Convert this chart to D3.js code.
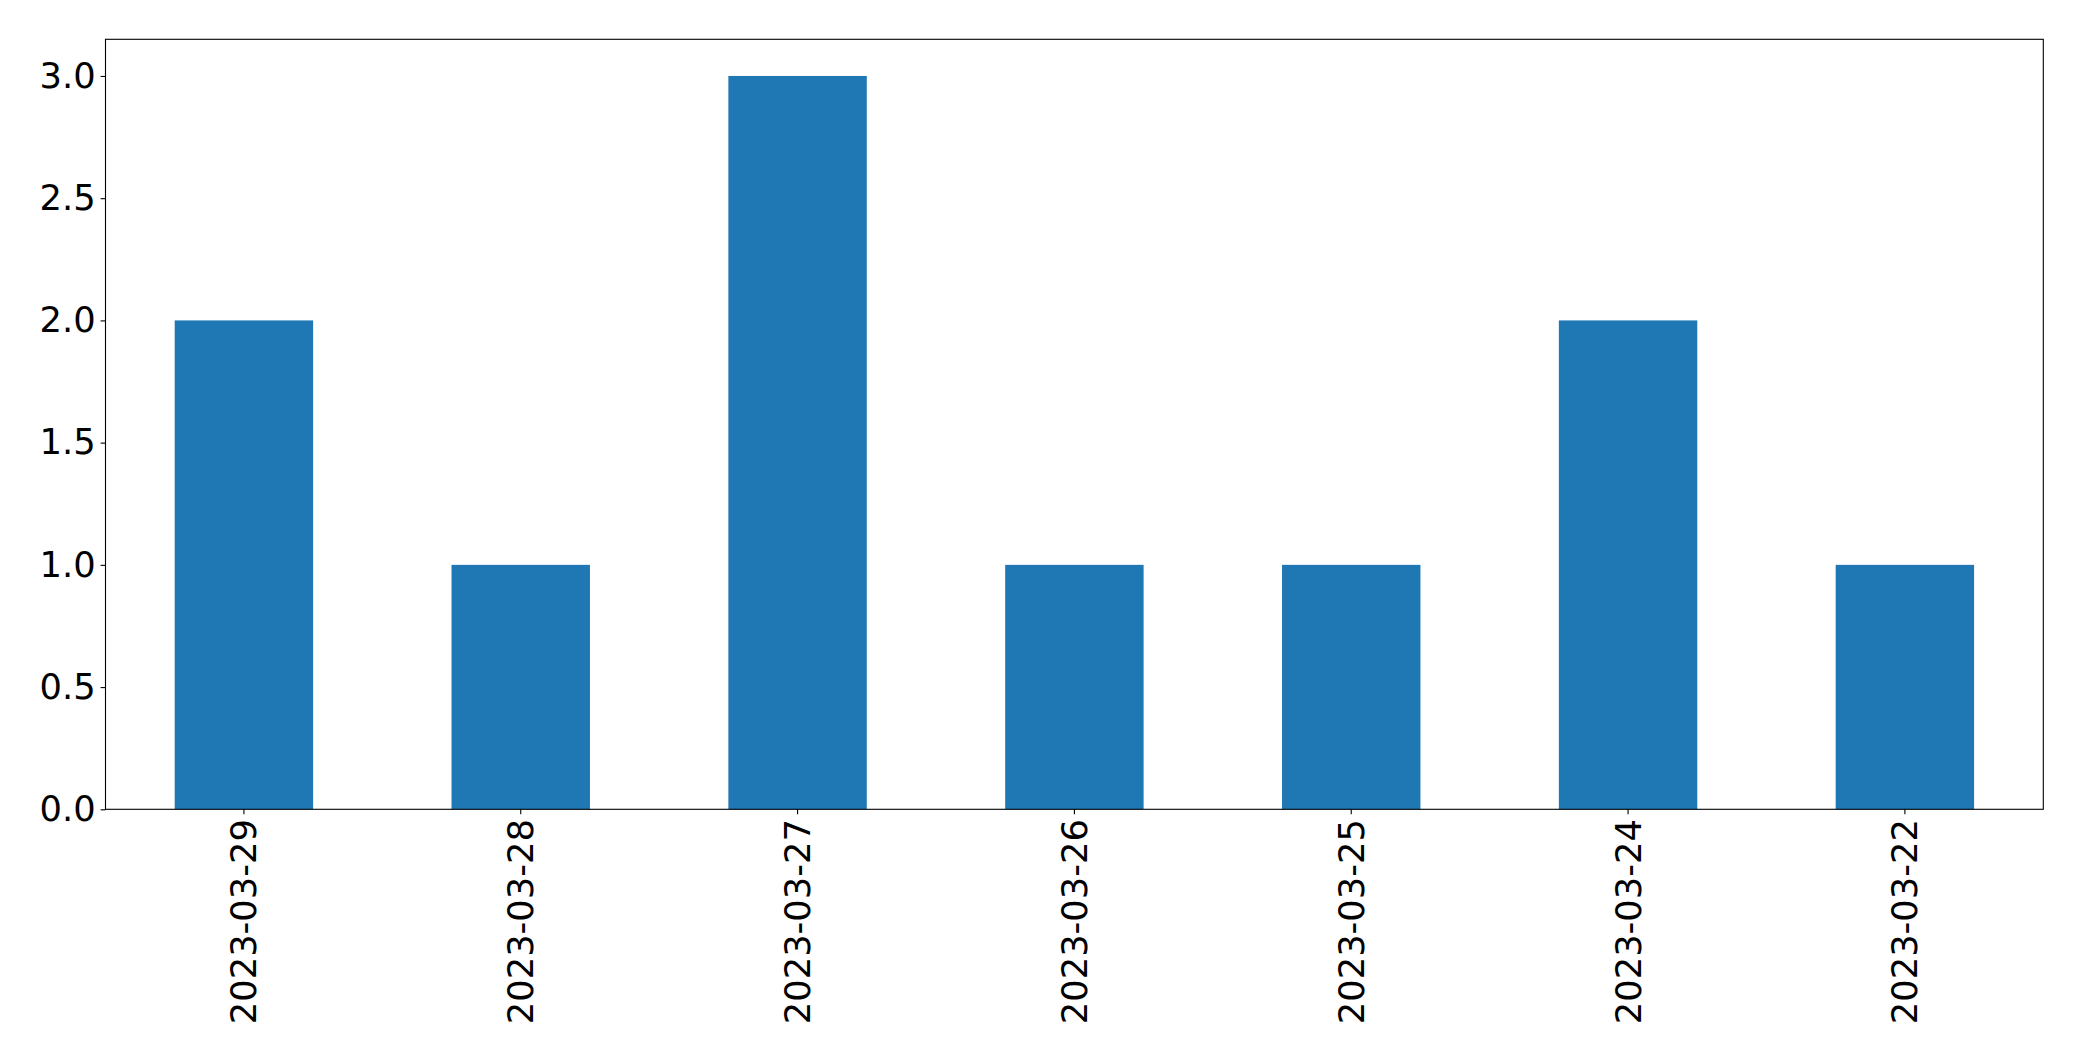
<!DOCTYPE html>
<html>
<head>
<meta charset="utf-8">
<script src="https://cdn.jsdelivr.net/npm/d3@7"></script>
<style>
  body { margin: 0; background: #fff; }
  text { font-family: "DejaVu Sans", sans-serif; }
</style>
</head>
<body>
<svg id="view" width="2082" height="1061"></svg>
<script>
const dates = ['2023-03-29', '2023-03-28', '2023-03-27', '2023-03-26', '2023-03-25', '2023-03-24', '2023-03-22'];
const counts = [2, 1, 3, 1, 1, 2, 1];
const yTicks = [0, 0.5, 1, 1.5, 2, 2.5, 3];

const LEFT=105.5, RIGHT=2043.3, TOP=39.3, BOTTOM=809.3;
const FS=35.3, TICK=4.9, PAD=4.9;

var view = d3.select('#view');

var x = d3.scaleBand().domain(dates).range([LEFT, RIGHT])
    .paddingInner(0.5).paddingOuter(0.25);
var y = d3.scaleLinear().domain([0, 3.15]).range([BOTTOM, TOP]);

view.selectAll('rect.bar').data(dates)
  .enter().append('rect')
    .attr('class', 'bar')
    .attr('x', d => x(d))
    .attr('width', x.bandwidth())
    .attr('y', (d, i) => y(counts[i]))
    .attr('height', (d, i) => y(0) - y(counts[i]))
    .attr('fill', '#1f77b4');

// y axis
var yAxis = view.append('g')
    .attr('transform', 'translate(' + LEFT + ',0)')
    .call(d3.axisLeft(y).tickValues(yTicks).tickFormat(d3.format('.1f'))
        .tickSizeOuter(0).tickSize(TICK).tickPadding(PAD));
yAxis.select('.domain').remove();
yAxis.selectAll('line').attr('stroke-width', 1.1);
yAxis.selectAll('text').attr('font-size', FS).attr('fill', '#000')
    .attr('font-family', '"DejaVu Sans", sans-serif');

// x axis
var xAxis = view.append('g')
    .attr('transform', 'translate(0,' + BOTTOM + ')')
    .call(d3.axisBottom(x).tickSizeOuter(0).tickSize(TICK));
xAxis.select('.domain').remove();
xAxis.selectAll('line').attr('stroke-width', 1.1);
xAxis.selectAll('text')
    .attr('font-size', FS).attr('fill', '#000')
    .attr('font-family', '"DejaVu Sans", sans-serif')
    .attr('y', 0).attr('dy', null)
    .attr('text-anchor', 'end')
    .attr('dominant-baseline', 'central')
    .attr('transform', 'translate(0,' + (TICK + PAD) + ') rotate(-90)');

// frame
view.append('rect')
    .attr('x', LEFT).attr('y', TOP)
    .attr('width', RIGHT - LEFT).attr('height', BOTTOM - TOP)
    .attr('fill', 'none').attr('stroke', '#000').attr('stroke-width', 1.1);
</script>
</body>
</html>
